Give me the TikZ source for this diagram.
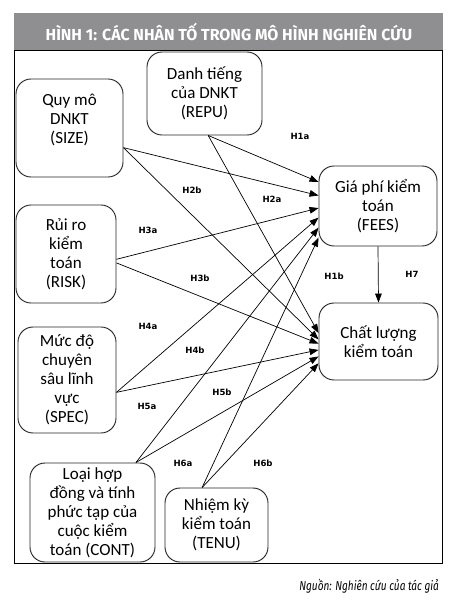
\documentclass[tikz,border=0pt]{standalone}
\usepackage{fontspec}
\setmainfont{Carlito}
\newfontfamily\titlefont{Fira Sans}
\newfontfamily\hypfont{DejaVu Sans}
\newfontfamily\srcfont[FakeStretch=0.78]{Fira Sans}
\usetikzlibrary{arrows.meta}
\definecolor{bargray}{RGB}{143,143,145}

\begin{document}
\begin{tikzpicture}[x=0.3mm, y=-0.3mm,
  box/.style={draw=black!85, line width=0.8pt, rounded corners=4.5mm,
    align=center, inner sep=0pt, font=\fontsize{14.5}{16.2}\selectfont},
  hyp/.style={font=\hypfont\bfseries\fontsize{7.3}{8}\selectfont},
  link/.style={-{Triangle[length=2.7mm,width=2mm]}, line width=0.6pt}]
  \useasboundingbox (0,0) rectangle (463,600);
  % title bar and frame
  \fill[bargray] (14,13) rectangle (443,50);
  \node[text=white, font=\titlefont\bfseries\fontsize{13.6}{15}\selectfont] (title) at (229,31.5)
    {HÌNH 1: CÁC NHÂN TỐ TRONG MÔ HÌNH NGHIÊN CỨU};
  \draw[line width=0.8pt] (14,50) rectangle (442,563);
  % factors
  \node[box, minimum width=34.5mm, minimum height=24.9mm] (repu) at (204.5,93.5)
    {Danh tiếng\\của DNKT\\(REPU)};
  \node[box, minimum width=32.1mm, minimum height=29.4mm] (size) at (69.5,128)
    {Quy mô\\DNKT\\(SIZE)\\ \mbox{}};
  \node[box, minimum width=30mm, minimum height=29.4mm] (risk) at (66,254)
    {Rủi ro\\kiểm\\toán\\(RISK)};
  \node[box, minimum width=29.4mm, minimum height=31.8mm] (spec) at (67,380)
    {Mức độ\\chuyên\\sâu lĩnh\\vực\\(SPEC)};
  \node[box, minimum width=37.5mm, minimum height=29.7mm] (cont) at (92.5,512.5)
    {Loại hợp\\đồng và tính\\phức tạp của\\cuộc kiểm\\toán (CONT)};
  \node[box, minimum width=30.9mm, minimum height=22.2mm] (tenu) at (216.5,525)
    {Nhiệm kỳ\\kiểm toán\\(TENU)};
  % outcomes
  \node[box, minimum width=35.4mm, minimum height=24mm] (fees) at (378,206)
    {Giá phí kiểm\\toán\\(FEES)};
  \node[box, minimum width=35.7mm, minimum height=23.1mm] (qual) at (378.5,341.5)
    {Chất lượng\\kiểm toán};
  % paths to FEES
  \draw[link] (repu.275) -- (fees.158);
  \draw[link] (size.340) -- (fees.170);
  \draw[link] (risk.354) -- (fees.182);
  \draw[link] (spec.346) -- (fees.191);
  \draw[link] (cont.49) -- (fees.200);
  \draw[link] (tenu.111) -- (fees.208);
  % paths to quality
  \draw[link] (repu.275) -- (qual.172);
  \draw[link] (size.340) -- (qual.178);
  \draw[link] (risk.350) -- (qual.182);
  \draw[link] (spec.346) -- (qual.188);
  \draw[link] (cont.49) -- (qual.194);
  \draw[link] (tenu.111) -- (qual.200);
  \draw[link] (fees.south) -- (qual.north);
  % hypothesis labels
  \node[hyp] (h1a) at (300,136) {H1a};
  \node[hyp] (h1b) at (334,276) {H1b};
  \node[hyp] (h2a) at (272,199) {H2a};
  \node[hyp] (h2b) at (192,190) {H2b};
  \node[hyp] (h3a) at (148,230) {H3a};
  \node[hyp] (h3b) at (200,278) {H3b};
  \node[hyp] (h4a) at (148,326) {H4a};
  \node[hyp] (h4b) at (195,350) {H4b};
  \node[hyp] (h5a) at (147,406) {H5a};
  \node[hyp] (h5b) at (222,392) {H5b};
  \node[hyp] (h6a) at (183,463) {H6a};
  \node[hyp] (h6b) at (263,463) {H6b};
  \node[hyp] (h7) at (412,274) {H7};
  % source
  \node[anchor=east, font=\srcfont\itshape\fontsize{11}{13}\selectfont] (src) at (443,586)
    {Nguồn: Nghiên cứu của tác giả};
\end{tikzpicture}
\end{document}
